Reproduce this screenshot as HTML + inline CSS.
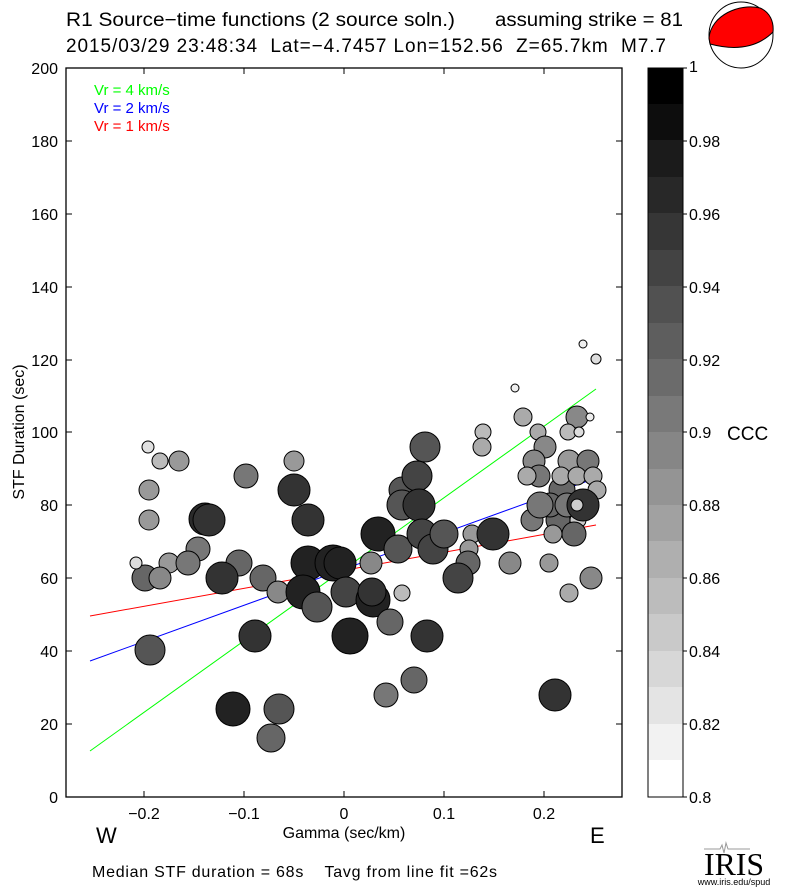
<!DOCTYPE html>
<html><head><meta charset="utf-8"><style>
body{margin:0;background:#fff}
svg{display:block;font-family:"Liberation Sans",sans-serif}
</style></head><body>
<svg width="785" height="887" viewBox="0 0 785 887" xmlns="http://www.w3.org/2000/svg">
<text x="66" y="26" font-size="19" textLength="389" lengthAdjust="spacingAndGlyphs">R1 Source−time functions (2 source soln.)</text>
<text x="495" y="26" font-size="19" textLength="188" lengthAdjust="spacingAndGlyphs">assuming strike = 81</text>
<text x="66" y="52" font-size="19" textLength="600" lengthAdjust="spacing" xml:space="preserve">2015/03/29 23:48:34  Lat=−4.7457 Lon=152.56  Z=65.7km  M7.7</text>
<g>
<ellipse cx="741" cy="35" rx="32" ry="33" fill="#fff" stroke="#000"/>
<path d="M709,38 C711,15 740,3 760,8 C770,12 774,22 773,32 C760,45 740,52 710,44 Z" fill="#f00" stroke="#000"/>
</g>
<rect x="66" y="68" width="556" height="729" fill="none" stroke="#000" stroke-width="1.3"/>
<g stroke="#000" stroke-width="1">
<path d="M66,797h6M66,724h6M66,651h6M66,578h6M66,505h6M66,432h6M66,360h6M66,287h6M66,214h6M66,141h6M66,68h6"/>
<path d="M622,797h-6M622,724h-6M622,651h-6M622,578h-6M622,505h-6M622,432h-6M622,360h-6M622,287h-6M622,214h-6M622,141h-6"/>
<path d="M144,797v-6M244,797v-6M344,797v-6M444,797v-6M544,797v-6M144,68v6M244,68v6M344,68v6M444,68v6M544,68v6"/>
</g>
<g font-size="16" text-anchor="end">
<text x="58" y="803">0</text><text x="58" y="730">20</text><text x="58" y="657">40</text><text x="58" y="584">60</text><text x="58" y="511">80</text><text x="58" y="438">100</text><text x="58" y="366">120</text><text x="58" y="293">140</text><text x="58" y="220">160</text><text x="58" y="147">180</text><text x="58" y="74">200</text>
</g>
<g font-size="16" text-anchor="middle">
<text x="144" y="819">−0.2</text><text x="244" y="819">−0.1</text><text x="344" y="819">0</text><text x="444" y="819">0.1</text><text x="544" y="819">0.2</text>
<text x="344" y="838">Gamma (sec/km)</text>
</g>
<text x="96" y="843" font-size="22">W</text>
<text x="590" y="843" font-size="22">E</text>
<text x="24" y="432" font-size="16" text-anchor="middle" transform="rotate(-90 24 432)">STF Duration (sec)</text>
<text x="92" y="877" font-size="16" textLength="405" lengthAdjust="spacing" xml:space="preserve">Median STF duration = 68s    Tavg from line fit =62s</text>
<text x="94" y="95" font-size="15" fill="#0f0">Vr = 4 km/s</text>
<text x="94" y="113" font-size="15" fill="#00f">Vr = 2 km/s</text>
<text x="94" y="131" font-size="15" fill="#f00">Vr = 1 km/s</text>
<line x1="90" y1="751" x2="596" y2="389" stroke="#0f0" stroke-width="1"/>
<line x1="90" y1="661" x2="596" y2="478" stroke="#00f" stroke-width="1"/>
<line x1="90" y1="616" x2="596" y2="525" stroke="#f00" stroke-width="1"/>
<g stroke="#000" stroke-width="1">
<circle cx="148" cy="447" r="6" fill="#e0e0e0"/>
<circle cx="160" cy="461" r="8" fill="#bbb"/>
<circle cx="179" cy="461" r="10" fill="#999"/>
<circle cx="149" cy="490" r="10" fill="#999"/>
<circle cx="149" cy="520" r="10" fill="#999"/>
<circle cx="246" cy="476" r="12" fill="#777"/>
<circle cx="294" cy="461" r="10" fill="#999"/>
<circle cx="294" cy="490" r="16" fill="#333"/>
<circle cx="308" cy="520" r="16" fill="#333"/>
<circle cx="205" cy="519" r="16" fill="#2a2a2a"/>
<circle cx="209" cy="520" r="16" fill="#333"/>
<circle cx="198" cy="549" r="12" fill="#777"/>
<circle cx="145" cy="578" r="13" fill="#666"/>
<circle cx="136" cy="563" r="6" fill="#ddd"/>
<circle cx="169" cy="563" r="10" fill="#999"/>
<circle cx="188" cy="563" r="12" fill="#777"/>
<circle cx="160" cy="578" r="11" fill="#888"/>
<circle cx="239" cy="563" r="13" fill="#666"/>
<circle cx="222" cy="578" r="16" fill="#333"/>
<circle cx="263" cy="578" r="13" fill="#666"/>
<circle cx="278" cy="592" r="11" fill="#888"/>
<circle cx="308" cy="563" r="17" fill="#222"/>
<circle cx="333" cy="563" r="18" fill="#222"/>
<circle cx="340" cy="563" r="16" fill="#222"/>
<circle cx="371" cy="563" r="11" fill="#888"/>
<circle cx="303" cy="592" r="17" fill="#222"/>
<circle cx="346" cy="592" r="15" fill="#444"/>
<circle cx="317" cy="607" r="15" fill="#555"/>
<circle cx="373" cy="600" r="17" fill="#222"/>
<circle cx="372" cy="592" r="14" fill="#333"/>
<circle cx="390" cy="622" r="13" fill="#666"/>
<circle cx="402" cy="593" r="8" fill="#bbb"/>
<circle cx="150" cy="650" r="15" fill="#555"/>
<circle cx="255" cy="636" r="16" fill="#333"/>
<circle cx="350" cy="636" r="18" fill="#222"/>
<circle cx="427" cy="636" r="16" fill="#333"/>
<circle cx="233" cy="709" r="17" fill="#222"/>
<circle cx="279" cy="709" r="15" fill="#555"/>
<circle cx="271" cy="738" r="14" fill="#666"/>
<circle cx="414" cy="680" r="13" fill="#666"/>
<circle cx="386" cy="695" r="12" fill="#777"/>
<circle cx="555" cy="695" r="16" fill="#333"/>
<circle cx="583" cy="344" r="4" fill="#eee"/>
<circle cx="596" cy="359" r="5" fill="#ddd"/>
<circle cx="515" cy="388" r="4" fill="#eee"/>
<circle cx="523" cy="417" r="9" fill="#aaa"/>
<circle cx="577" cy="417" r="11" fill="#888"/>
<circle cx="590" cy="417" r="4" fill="#eee"/>
<circle cx="538" cy="432" r="8" fill="#aaa"/>
<circle cx="568" cy="432" r="8" fill="#bbb"/>
<circle cx="579" cy="432" r="5" fill="#ddd"/>
<circle cx="483" cy="432" r="8" fill="#bbb"/>
<circle cx="482" cy="447" r="9" fill="#aaa"/>
<circle cx="425" cy="447" r="15" fill="#555"/>
<circle cx="545" cy="447" r="11" fill="#888"/>
<circle cx="402" cy="490" r="13" fill="#555"/>
<circle cx="417" cy="476" r="15" fill="#444"/>
<circle cx="402" cy="505" r="15" fill="#555"/>
<circle cx="419" cy="505" r="16" fill="#333"/>
<circle cx="534" cy="461" r="11" fill="#888"/>
<circle cx="569" cy="461" r="11" fill="#999"/>
<circle cx="588" cy="461" r="11" fill="#777"/>
<circle cx="539" cy="476" r="11" fill="#777"/>
<circle cx="527" cy="476" r="9" fill="#aaa"/>
<circle cx="562" cy="490" r="13" fill="#666"/>
<circle cx="561" cy="476" r="9" fill="#aaa"/>
<circle cx="577" cy="476" r="9" fill="#aaa"/>
<circle cx="593" cy="476" r="9" fill="#aaa"/>
<circle cx="597" cy="490" r="9" fill="#aaa"/>
<circle cx="532" cy="520" r="11" fill="#777"/>
<circle cx="558" cy="520" r="12" fill="#666"/>
<circle cx="578" cy="520" r="8" fill="#ccc"/>
<circle cx="550" cy="505" r="12" fill="#666"/>
<circle cx="540" cy="505" r="13" fill="#777"/>
<circle cx="567" cy="505" r="12" fill="#777"/>
<circle cx="553" cy="534" r="9" fill="#999"/>
<circle cx="574" cy="534" r="12" fill="#666"/>
<circle cx="583" cy="505" r="16" fill="#333"/>
<circle cx="577" cy="505" r="6" fill="#ccc"/>
<circle cx="378" cy="534" r="17" fill="#222"/>
<circle cx="398" cy="549" r="14" fill="#555"/>
<circle cx="422" cy="534" r="15" fill="#444"/>
<circle cx="433" cy="549" r="15" fill="#444"/>
<circle cx="444" cy="534" r="14" fill="#555"/>
<circle cx="472" cy="534" r="9" fill="#999"/>
<circle cx="469" cy="549" r="9" fill="#999"/>
<circle cx="468" cy="563" r="12" fill="#666"/>
<circle cx="493" cy="534" r="16" fill="#333"/>
<circle cx="458" cy="578" r="15" fill="#444"/>
<circle cx="510" cy="563" r="11" fill="#888"/>
<circle cx="549" cy="563" r="9" fill="#999"/>
<circle cx="591" cy="578" r="11" fill="#888"/>
<circle cx="569" cy="593" r="9" fill="#aaa"/>
</g>
<g>
<rect x="648" y="68" width="35" height="37" fill="#000"/>
<rect x="648" y="104" width="35" height="37" fill="#0d0d0d"/>
<rect x="648" y="140" width="35" height="37" fill="#1b1b1b"/>
<rect x="648" y="177" width="35" height="37" fill="#282828"/>
<rect x="648" y="213" width="35" height="37" fill="#363636"/>
<rect x="648" y="250" width="35" height="37" fill="#434343"/>
<rect x="648" y="286" width="35" height="37" fill="#515151"/>
<rect x="648" y="323" width="35" height="37" fill="#5e5e5e"/>
<rect x="648" y="359" width="35" height="37" fill="#6b6b6b"/>
<rect x="648" y="396" width="35" height="37" fill="#797979"/>
<rect x="648" y="432" width="35" height="37" fill="#868686"/>
<rect x="648" y="469" width="35" height="37" fill="#949494"/>
<rect x="648" y="505" width="35" height="37" fill="#a1a1a1"/>
<rect x="648" y="541" width="35" height="37" fill="#afafaf"/>
<rect x="648" y="578" width="35" height="37" fill="#bcbcbc"/>
<rect x="648" y="614" width="35" height="37" fill="#c9c9c9"/>
<rect x="648" y="651" width="35" height="37" fill="#d7d7d7"/>
<rect x="648" y="687" width="35" height="37" fill="#e4e4e4"/>
<rect x="648" y="724" width="35" height="37" fill="#f2f2f2"/>
<rect x="648" y="760" width="35" height="37" fill="#fff"/>
<rect x="648" y="68" width="35" height="729" fill="none" stroke="#000"/>
<g stroke="#000"><path d="M683,68h4M683,141h4M683,214h4M683,287h4M683,360h4M683,432h4M683,505h4M683,578h4M683,651h4M683,724h4M683,797h4"/></g>
<g font-size="16">
<text x="689" y="72">1</text><text x="689" y="147">0.98</text><text x="689" y="220">0.96</text><text x="689" y="293">0.94</text><text x="689" y="366">0.92</text><text x="689" y="438">0.9</text><text x="689" y="511">0.88</text><text x="689" y="584">0.86</text><text x="689" y="657">0.84</text><text x="689" y="730">0.82</text><text x="689" y="803">0.8</text>
</g>
<text x="727" y="440" font-size="19">CCC</text>
</g>
<path d="M704,849 h16 l2,-4 l2,8 l2,-10 l2,6 h22" stroke="#999" fill="none" stroke-width="1"/>
<text x="734" y="875" font-size="32" font-family="Liberation Serif,serif" text-anchor="middle" textLength="60" lengthAdjust="spacingAndGlyphs">IRIS</text>
<text x="734" y="885" font-size="9" text-anchor="middle">www.iris.edu/spud</text>
</svg>
</body></html>
